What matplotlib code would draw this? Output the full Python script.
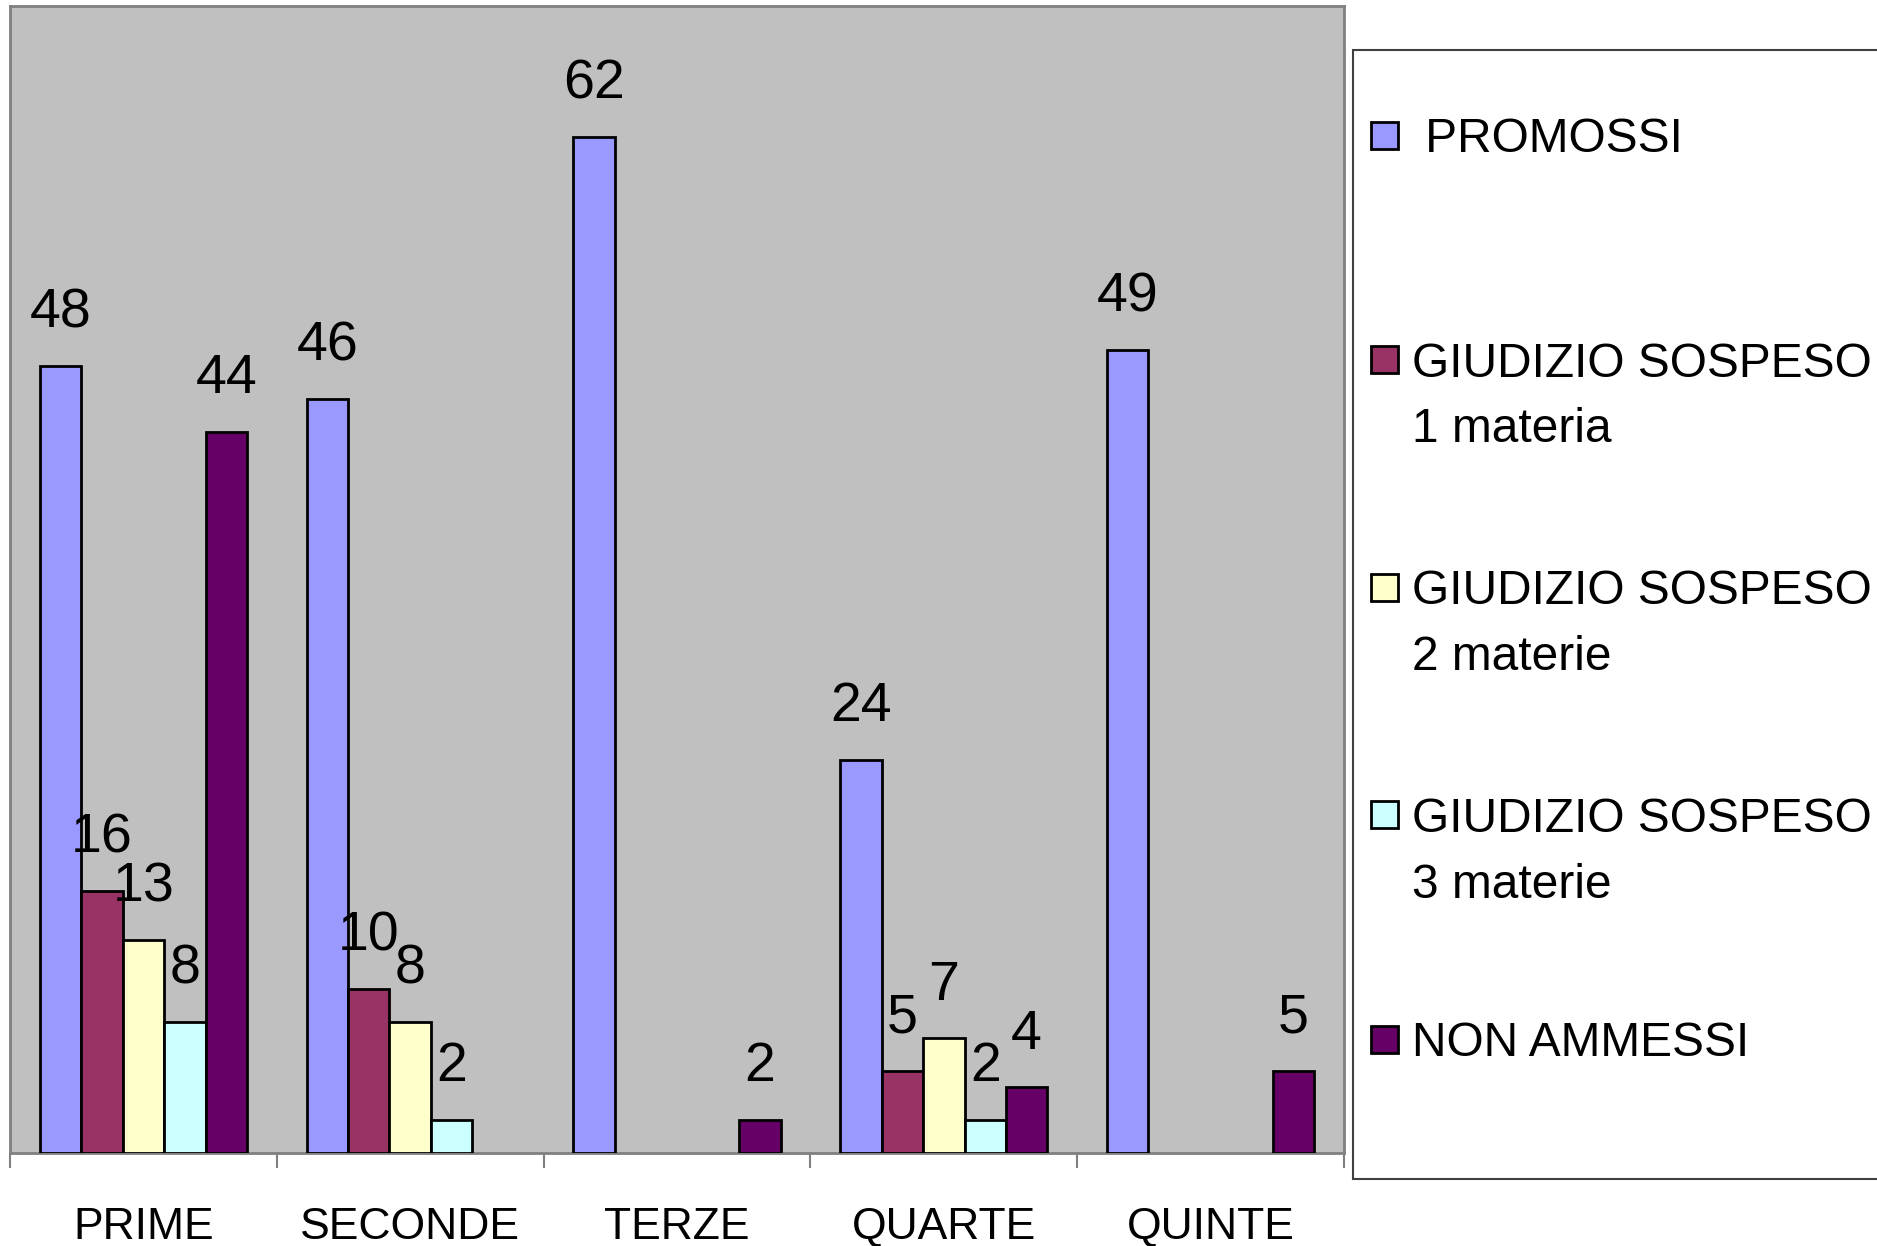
import numpy as np
import matplotlib.pyplot as plt
from matplotlib.patches import Rectangle

plt.rcParams['font.family'] = ['Liberation Sans', 'DejaVu Sans']

categories = ['PRIME', 'SECONDE', 'TERZE', 'QUARTE', 'QUINTE']
series_names = [' PROMOSSI', 'GIUDIZIO SOSPESO\n1 materia', 'GIUDIZIO SOSPESO\n2 materie',
                'GIUDIZIO SOSPESO\n3 materie', 'NON AMMESSI']
promossi = [48, 46, 62, 24, 49]
sospeso_1 = [16, 10, 0, 5, 0]
sospeso_2 = [13, 8, 0, 7, 0]
sospeso_3 = [8, 2, 0, 2, 0]
non_ammessi = [44, 0, 2, 4, 5]
colors = ['#9999FF', '#993366', '#FFFFCC', '#CCFFFF', '#660066']

series = [promossi, sospeso_1, sospeso_2, sospeso_3, non_ammessi]

W, H = 1877, 1246
fig = plt.figure(figsize=(W / 100, H / 100), dpi=100)
ax = fig.add_axes([10 / W, (H - 1153) / H, 1334 / W, 1147 / H])
ax.set_facecolor('#C0C0C0')

x = np.arange(len(categories))
group_w = 0.776
bw = group_w / len(series)
for i, (vals, c) in enumerate(zip(series, colors)):
    pos = x - group_w / 2 + bw * (i + 0.5)
    bars = ax.bar(pos, vals, bw, color=c, edgecolor='black', linewidth=2, zorder=3)
    for rect, v in zip(bars, vals):
        if v == 0:
            rect.set_visible(False)
            continue
        ax.annotate(str(v), (rect.get_x() + bw / 2, v), xytext=(0, 38),
                    textcoords='offset points', ha='center', va='center', fontsize=40)

ax.set_xlim(-0.5, len(categories) - 0.5)
ax.set_ylim(0, 70)
ax.set_yticks([])
ax.set_xticks(x)
ax.set_xticklabels(categories, fontsize=32)
ax.tick_params(axis='x', which='major', length=0, pad=39)
ax.set_xticks(np.arange(-0.5, len(categories)), minor=True)
ax.tick_params(axis='x', which='minor', length=11, width=1.5, color='#808080', direction='out')
for s in ax.spines.values():
    s.set_color('#808080')
    s.set_linewidth(2)

# legend box
fig.patches.append(Rectangle((1353 / W, (H - 1179) / H), 600 / W, 1129 / H,
                             transform=fig.transFigure, facecolor='white',
                             edgecolor='#404040', linewidth=1.5))
legend_y = [135, 359, 587, 814, 1039]
for name, c, yy in zip(series_names, colors, legend_y):
    fig.patches.append(Rectangle((1371 / W, (H - yy - 14) / H), 27 / W, 27 / H,
                                 transform=fig.transFigure, facecolor=c,
                                 edgecolor='black', linewidth=2))
    for k, line in enumerate(name.split('\n')):
        fig.text(1412 / W, (H - yy - 5 - 66 * k) / H, line, fontsize=34.5,
                 ha='left', va='center')

fig.savefig('out.png', dpi=100)
